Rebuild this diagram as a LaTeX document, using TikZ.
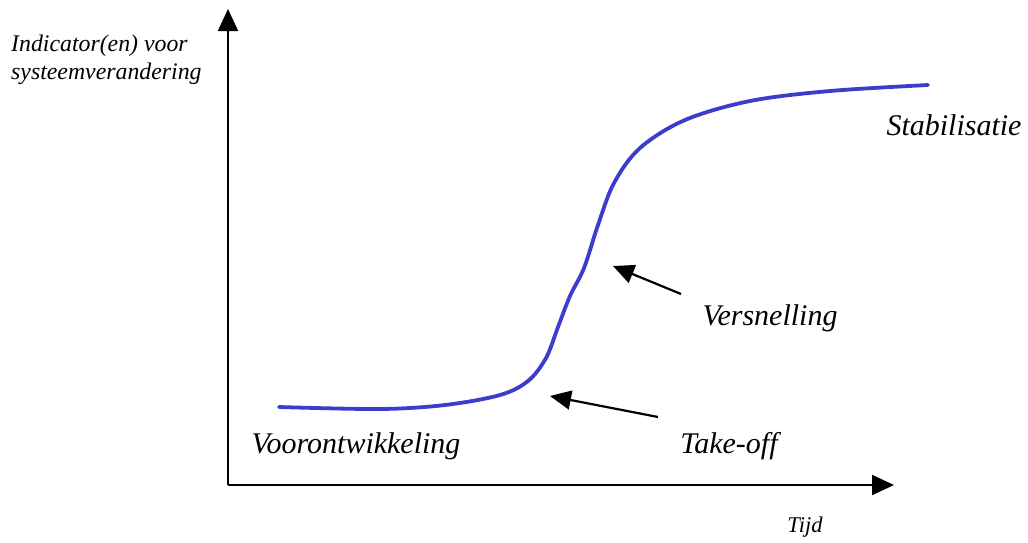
\documentclass[tikz,border=0pt]{standalone}
\usepackage{fontspec}
\setmainfont{Liberation Serif}
\usetikzlibrary{arrows.meta}
\definecolor{curveblue}{RGB}{60,60,205}
\begin{document}
\begin{tikzpicture}[x=1pt,y=-1pt,
  axis/.style={line width=2.2pt,-{Triangle[length=22pt,width=20pt]}},
  pointer/.style={line width=2.2pt,-{Triangle[length=21pt,width=19pt]}},
  lbl/.style={font=\fontsize{30}{34}\selectfont\itshape,inner sep=0pt},
  curve/.style={curveblue,line width=3.8pt,line cap=round}]
\useasboundingbox (0,0) rectangle (1028,542);
\coordinate (O) at (228,485);
\coordinate (ytip) at (228,9);
\coordinate (xtip) at (894,485);
\draw[axis] (O) -- (ytip);
\draw[axis] (O) -- (xtip);
\draw[curve] plot[smooth,tension=0.55] coordinates {
  (279,407) (380,409) (445,405) (500,395) (528,381) (546,358)
  (558,327) (570,296) (584,268) (598,225) (614,183) (640,148)
  (685,120) (750,101) (830,91) (928,85)};
\coordinate (tkfrom) at (658,417);
\coordinate (tkto) at (550,396);
\coordinate (vsfrom) at (681,294);
\coordinate (vsto) at (613,266);
\draw[pointer] (tkfrom) -- (tkto);
\draw[pointer] (vsfrom) -- (vsto);
\node[lbl] (voor) at (356,446) {Voorontwikkeling};
\node[lbl] (take) at (729,446) {Take-off};
\node[lbl] (vers) at (770,318) {Versnelling};
\node[lbl] (stab) at (954,125) {Stabilisatie};
\node[font=\fontsize{22.5}{28}\selectfont\itshape,inner sep=0pt] (tijd) at (805,527) {Tijd};
\node[font=\fontsize{23.8}{28}\selectfont\itshape,inner sep=0pt,align=left,anchor=north west] (ind) at (11,35) {Indicator(en) voor\\systeemverandering};
\end{tikzpicture}
\end{document}
